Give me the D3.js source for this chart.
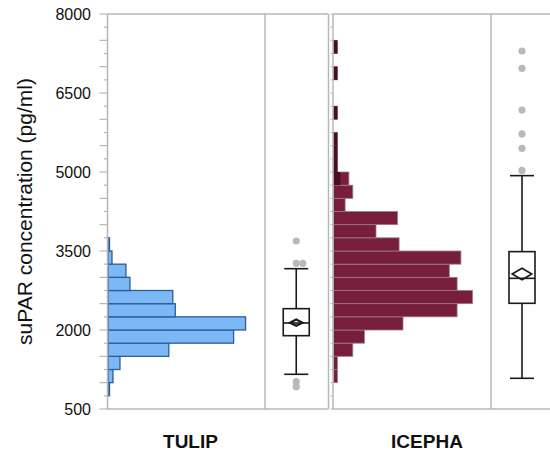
<!DOCTYPE html>
<html>
<head>
<meta charset="utf-8">
<script src="https://cdn.jsdelivr.net/npm/d3@7"></script>
<style>
  html, body { margin: 0; padding: 0; background: #fff; }
  svg { display: block; font-family: "Liberation Sans", Arial, sans-serif; }
</style>
</head>
<body>
<svg id="chart" width="550" height="454"></svg>
<script>
// ---------------- DATA ----------------
const groups = ["TULIP", "ICEPHA"];
const binStarts = [500, 750, 1000, 1250, 1500, 1750, 2000, 2250, 2500, 2750, 3000, 3250, 3500, 3750,
                   4000, 4250, 4500, 4750, 5000, 5250, 5500, 5750, 6000, 6250, 6500, 6750, 7000, 7250, 7500, 7750];
const binWidth = 250;
// relative frequency (%) per bin
const tulipFreq  = [0, 0.15, 0.5, 1.2, 6.1, 12.6, 13.8, 6.75, 6.5, 2.2, 1.8, 0.4, 0.15, 0,
                    0, 0, 0, 0, 0, 0, 0, 0, 0, 0, 0, 0, 0, 0, 0, 0];
const icephaFreq = [0, 0, 0.39, 0.39, 1.93, 3.09, 6.95, 12.36, 13.9, 12.36, 11.58, 12.74, 6.56, 4.25,
                    6.4, 1.16, 1.93, 1.54, 0.39, 0.39, 0.39, 0, 0.39, 0, 0, 0.39, 0, 0.39, 0, 0];
// darker shaded part of ICEPHA bars
const icephaDark = [0, 0, 0, 0, 0, 0, 0, 0, 0, 0, 0, 0, 0, 0,
                    0, 0, 0, 0.7, 0.39, 0.39, 0.39, 0, 0.39, 0, 0, 0.39, 0, 0.39, 0, 0];
// box plot statistics: [lowerWhisker, q1, median, q3, upperWhisker]
const tulipBox  = [1159, 1892, 2133, 2405, 3164];
const icephaBox = [1083, 2507, 2981, 3488, 4931];
const tulipMean  = [2140, 60];    // mean, half-height of diamond
const icephaMean = [3063, 110];
const tulipOutliers  = [3690, 3266, 3266, 1018, 923];
const icephaOutliers = [7297, 6969, 6177, 5722, 5450, 5030];
const yTickLabels = [500, 2000, 3500, 5000, 6500, 8000];
const yLabel = "suPAR concentration (pg/ml)";

// ---------------- LAYOUT ----------------
const svg = d3.select("#chart");
const plotTop = 14, plotBottom = 409;
const y = d3.scaleLinear().domain([500, 8000]).range([plotBottom, plotTop]);

const panels = [
  { name: groups[0], left: 107.5, sep: 265, right: 328.5, freq: tulipFreq, dark: null,
    fill: "#7db8f6", stroke: "#2c5d96", box: tulipBox, mean: tulipMean, out: tulipOutliers, labelX: 190.5 },
  { name: groups[1], left: 333, sep: 491, right: 554, freq: icephaFreq, dark: icephaDark,
    fill: "#771e3c", stroke: "#9c7a86", box: icephaBox, mean: icephaMean, out: icephaOutliers, labelX: 427 }
];

const gridCol = "#b7b7b7";

// y axis ticks and labels (left panel)
const axisG = svg.append("g");
const tickVals = d3.range(500, 8001, 250);
axisG.selectAll("line.tk").data(tickVals).enter().append("line")
  .attr("x1", d => (d % 500 === 0) ? 99.5 : 104)
  .attr("x2", 107.5)
  .attr("y1", d => y(d)).attr("y2", d => y(d))
  .attr("stroke", gridCol).attr("stroke-width", 1.2);
axisG.selectAll("text.tl").data(yTickLabels).enter().append("text")
  .attr("x", 91).attr("y", d => y(d) + 6)
  .attr("text-anchor", "end")
  .attr("font-size", 16).attr("fill", "#111")
  .text(d => d);

svg.append("text")
  .attr("transform", `translate(32,${(plotTop + plotBottom) / 2}) rotate(-90)`)
  .attr("text-anchor", "middle")
  .attr("font-size", 21).attr("fill", "#111")
  .text(yLabel);

panels.forEach((p, i) => {
  const g = svg.append("g");
  const x = d3.scaleLinear().domain([0, 15.75]).range([p.left + 0.5, p.sep]);

  // bars
  const bins = binStarts.map((b, k) => ({ b, v: p.freq[k], d: p.dark ? p.dark[k] : 0 })).filter(d => d.v > 0);
  g.selectAll("rect.bar").data(bins).enter().append("rect")
    .attr("x", x(0))
    .attr("y", d => y(d.b + binWidth))
    .attr("width", d => x(d.v) - x(0))
    .attr("height", d => y(d.b) - y(d.b + binWidth))
    .attr("fill", p.fill)
    .attr("stroke", p.stroke)
    .attr("stroke-width", i === 0 ? 1.3 : 0.8);
  if (p.dark) {
    g.selectAll("rect.dk").data(bins.filter(d => d.d > 0)).enter().append("rect")
      .attr("x", x(0))
      .attr("y", d => y(d.b + binWidth))
      .attr("width", d => x(d.d) - x(0))
      .attr("height", d => y(d.b) - y(d.b + binWidth))
      .attr("fill", "#4a0d22");
  }

  // frame
  const frame = (x1, x2, y1, y2) => g.append("line").attr("x1", x1).attr("x2", x2).attr("y1", y1).attr("y2", y2)
    .attr("stroke", gridCol).attr("stroke-width", 1.5);
  frame(p.left, p.left, plotTop, plotBottom);
  frame(p.left, p.right, plotTop, plotTop);
  frame(p.left, p.right, plotBottom, plotBottom);
  frame(p.sep, p.sep, plotTop, plotBottom);
  frame(p.right, p.right, plotTop, plotBottom);
  if (i > 0) {
    g.selectAll("line.mt").data(tickVals).enter().append("line")
      .attr("x1", p.left - 2.5).attr("x2", p.left)
      .attr("y1", d => y(d)).attr("y2", d => y(d))
      .attr("stroke", gridCol).attr("stroke-width", 1);
  }

  // box plot
  const cx = (p.sep + p.right) / 2 - 0.5;
  const bw = 26, cw = 24;
  const [lw, q1, med, q3, uw] = p.box;
  const ink = "#1a1a1a";
  g.append("line").attr("x1", cx).attr("x2", cx).attr("y1", y(uw)).attr("y2", y(lw))
    .attr("stroke", ink).attr("stroke-width", 1.6);
  [lw, uw].forEach(v => g.append("line").attr("x1", cx - cw / 2).attr("x2", cx + cw / 2)
    .attr("y1", y(v)).attr("y2", y(v)).attr("stroke", ink).attr("stroke-width", 1.6));
  g.append("rect").attr("x", cx - bw / 2).attr("width", bw)
    .attr("y", y(q3)).attr("height", y(q1) - y(q3))
    .attr("fill", "#fff").attr("stroke", ink).attr("stroke-width", 1.6);
  g.append("line").attr("x1", cx - bw / 2).attr("x2", cx + bw / 2)
    .attr("y1", y(med)).attr("y2", y(med)).attr("stroke", ink).attr("stroke-width", 1.6);
  // mean diamond
  const my = y(p.mean[0]);
  const hh = y(p.mean[0] - p.mean[1]) - my;
  const hw = hh * 1.35 + 2;
  g.append("path")
    .attr("d", `M${cx - hw},${my} L${cx},${my - hh} L${cx + hw},${my} L${cx},${my + hh} Z`)
    .attr("fill", "none").attr("stroke", ink).attr("stroke-width", i === 0 ? 2.2 : 1.6);

  // outliers (side-by-side when identical)
  const seen = {};
  p.out.forEach(v => {
    const key = Math.round(y(v));
    const n = seen[key] || 0;
    seen[key] = n + 1;
    g.append("circle").attr("cx", cx + n * 6.5).attr("cy", y(v)).attr("r", 3.6)
      .attr("fill", "#b9b9b9");
  });

  // group label
  svg.append("text").attr("x", p.labelX).attr("y", 448)
    .attr("text-anchor", "middle").attr("font-size", 19).attr("font-weight", "bold")
    .attr("fill", "#111").text(p.name);
});
</script>
</body>
</html>
